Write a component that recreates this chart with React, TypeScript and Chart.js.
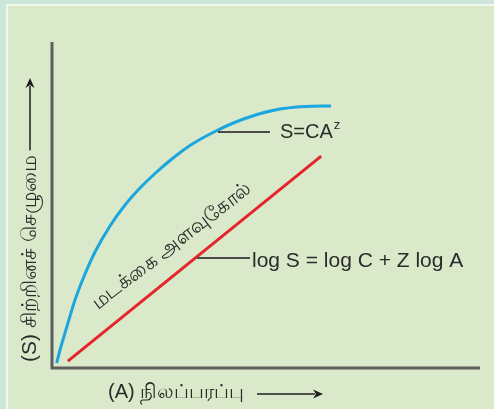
import React, { useEffect, useRef } from "react";
import { Chart, registerables } from "chart.js";

Chart.register(...registerables);

// Species–area curve (arithmetic scale): area A vs species richness S
const areaValues = [1.1, 1.87, 3.04, 4.21, 5.37, 7.71, 10.05, 13.55, 17.06, 20.56, 24.07, 27.57, 32.24, 38.08, 45.09, 52.1, 59.11, 65.19];
const richnessValues = [1.53, 5.52, 10.74, 15.95, 20.86, 28.83, 35.58, 43.56, 50.0, 55.21, 59.66, 63.65, 68.25, 72.55, 76.53, 79.14, 80.21, 80.37];
// Log-scale straight line
const logAreaValues = [3.7, 62.9];
const logRichnessValues = [2.1, 65.0];

const powerLabel = "S=CA";
const powerExp = "z";
const logLabel = "log S = log C + Z log A";
const logScaleLabel = "மடக்கை அளவுகோல்";
const xAxisLabel = "(A) நிலப்பரப்பு";
const yAxisLabel = "(S) சிற்றினச் செழுமை";

const FONT = "'Liberation Sans', Arial, 'Noto Sans', sans-serif";

const backgroundPlugin = {
  id: "bg",
  beforeDraw(chart: any) {
    const { ctx, width, height } = chart;
    ctx.save();
    ctx.fillStyle = "#cde6da";
    ctx.fillRect(0, 0, width, height);
    ctx.fillStyle = "#f2f7ee";
    ctx.fillRect(6, 4, width - 6, height - 4);
    ctx.fillStyle = "#d9e9c9";
    ctx.fillRect(8, 6, width - 8, height - 6);
    ctx.restore();
  },
};

function arrow(ctx: CanvasRenderingContext2D, x1: number, y1: number, x2: number, y2: number) {
  const ang = Math.atan2(y2 - y1, x2 - x1);
  const hl = 10;
  const hw = 4.5;
  ctx.beginPath();
  ctx.moveTo(x1, y1);
  ctx.lineTo(x2 - Math.cos(ang) * hl * 0.8, y2 - Math.sin(ang) * hl * 0.8);
  ctx.stroke();
  ctx.beginPath();
  ctx.moveTo(x2, y2);
  ctx.lineTo(x2 - Math.cos(ang) * hl - Math.sin(ang) * hw, y2 - Math.sin(ang) * hl + Math.cos(ang) * hw);
  ctx.lineTo(x2 - Math.cos(ang) * hl * 0.7, y2 - Math.sin(ang) * hl * 0.7);
  ctx.lineTo(x2 - Math.cos(ang) * hl + Math.sin(ang) * hw, y2 - Math.sin(ang) * hl - Math.cos(ang) * hw);
  ctx.closePath();
  ctx.fill();
}

const annotationPlugin = {
  id: "annot",
  beforeDatasetsDraw(chart: any) {
    const { ctx, chartArea } = chart;
    ctx.save();
    ctx.strokeStyle = "#5e5e5e";
    ctx.lineWidth = 3;
    ctx.beginPath();
    ctx.moveTo(chartArea.left, chartArea.top);
    ctx.lineTo(chartArea.left, chartArea.bottom);
    ctx.lineTo(chartArea.right, chartArea.bottom);
    ctx.stroke();
    ctx.restore();
  },
  afterDatasetsDraw(chart: any) {
    const { ctx } = chart;
    ctx.save();
    // leader lines
    ctx.strokeStyle = "#4a4a4a";
    ctx.lineWidth = 2;
    ctx.beginPath();
    ctx.moveTo(218, 132);
    ctx.lineTo(270, 132);
    ctx.moveTo(197, 258);
    ctx.lineTo(250, 258);
    ctx.stroke();

    ctx.fillStyle = "#2b2b2b";
    ctx.textBaseline = "alphabetic";
    ctx.textAlign = "left";
    ctx.font = `20px ${FONT}`;
    ctx.fillText(powerLabel, 280, 138);
    const w = ctx.measureText(powerLabel).width;
    ctx.font = `13px ${FONT}`;
    ctx.fillText(powerExp, 280 + w + 1, 129);

    ctx.font = `21px ${FONT}`;
    ctx.fillText(logLabel, 252, 267);

    // rotated log-scale label
    ctx.save();
    ctx.translate(172, 246);
    ctx.rotate((-37.5 * Math.PI) / 180);
    ctx.font = `20px ${FONT}`;
    ctx.textAlign = "center";
    ctx.textBaseline = "middle";
    ctx.fillText(logScaleLabel, 0, 0);
    ctx.restore();

    // y axis label
    ctx.save();
    ctx.translate(30, 362);
    ctx.rotate(-Math.PI / 2);
    ctx.font = `21px ${FONT}`;
    ctx.textAlign = "left";
    ctx.textBaseline = "middle";
    ctx.fillText(yAxisLabel, 0, 0);
    const yw = ctx.measureText(yAxisLabel).width;
    ctx.restore();
    ctx.strokeStyle = "#1e1e1e";
    ctx.fillStyle = "#1e1e1e";
    ctx.lineWidth = 1.5;
    arrow(ctx, 30, 362 - yw - 5, 30, 78);

    // x axis label
    ctx.fillStyle = "#2b2b2b";
    ctx.font = `20px ${FONT}`;
    ctx.textAlign = "left";
    ctx.textBaseline = "middle";
    ctx.fillText(xAxisLabel, 108, 392);
    ctx.fillStyle = "#1e1e1e";
    arrow(ctx, 257, 394, 323, 394);
    ctx.restore();
  },
};

export default function App() {
  const ref = useRef<HTMLCanvasElement | null>(null);
  useEffect(() => {
    if (!ref.current) return;
    const chart = new Chart(ref.current, {
      type: "line",
      data: {
        datasets: [
          {
            label: "S=CA^z",
            data: areaValues.map((x, i) => ({ x, y: richnessValues[i] })),
            borderColor: "#1ba6e0",
            borderWidth: 3,
            pointRadius: 0,
            cubicInterpolationMode: "monotone",
            fill: false,
          },
          {
            label: "log S = log C + Z log A",
            data: logAreaValues.map((x, i) => ({ x, y: logRichnessValues[i] })),
            borderColor: "#e5242b",
            borderWidth: 3,
            pointRadius: 0,
            fill: false,
          },
        ],
      },
      options: {
        animation: false,
        responsive: false,
        events: [],
        layout: { padding: { left: 52, top: 42, right: 14, bottom: 41 } },
        plugins: { legend: { display: false }, tooltip: { enabled: false } },
        scales: {
          x: { type: "linear", min: 0, max: 100, display: false },
          y: { type: "linear", min: 0, max: 100, display: false },
        },
      },
      plugins: [backgroundPlugin, annotationPlugin],
    });
    return () => chart.destroy();
  }, []);
  return (
    <div style={{ position: "absolute", left: 0, top: 0, width: 494, height: 409 }}>
      <canvas ref={ref} width={494} height={409} />
    </div>
  );
}
